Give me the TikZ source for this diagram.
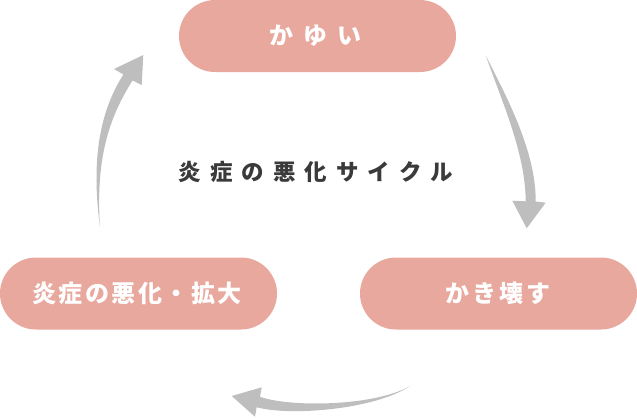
\documentclass[tikz,border=0pt]{standalone}
\usepackage{fontspec}
\setmainfont{Noto Sans CJK JP}
\definecolor{pill}{HTML}{E8A89E}
\definecolor{arrowgray}{HTML}{BEBEBE}
\definecolor{titlegray}{HTML}{3A3A3A}
\tikzset{
  pillbox/.style={fill=pill, rounded corners=36pt, minimum width=277pt, minimum height=72pt, inner sep=0pt},
  pilltext/.style={inner sep=0pt, text=white, font=\bfseries\fontsize{24pt}{24pt}\selectfont},
  titletext/.style={text=titlegray, inner sep=0pt, font=\bfseries\fontsize{22.5pt}{22.5pt}\selectfont},
  bentarrow/.style={fill=arrowgray, draw=none}
}
\begin{document}
\begin{tikzpicture}[x=1pt,y=-1pt]
\useasboundingbox (0,0) rectangle (637,418);
% pills
\node[pillbox] (itch) at (317.5,36) {};
\node[pillbox] (worse) at (138.5,293.5) {};
\node[pillbox] (scratch) at (498.5,293.5) {};
% texts
\node[pilltext] (itchtext) at (315.5,36) {か\kern10pt ゆ\kern10pt い};
\node[pilltext] (worsetext) at (137,293.5) {炎\kern2.5pt 症\kern2.5pt の\kern2.5pt 悪\kern2.5pt 化\kern2.5pt ・\kern2.5pt 拡\kern2.5pt 大};
\node[pilltext] (scratchtext) at (497.5,293.5) {か\kern3pt き\kern3pt 壊\kern3pt す};
\node[titletext] (title) at (316,172) {炎\kern9pt 症\kern9pt の\kern9pt 悪\kern9pt 化\kern9pt サ\kern9pt イ\kern9pt ク\kern9pt ル};
% right arrow (itch -> scratch)
\fill[bentarrow] (486,56) .. controls (505,94) and (536,150) .. (535.7,201.5)
  -- (545.7,202.7) -- (526.7,228.3) -- (512.3,200.7) -- (525.7,201.3)
  .. controls (525.5,152) and (500,97) .. (486,56) -- cycle;
% bottom arrow (scratch -> worse)
\fill[bentarrow] (410,386) .. controls (374.4,409.9) and (288.6,416.3) .. (256.6,407.2)
  -- (255,416.7) -- (231.7,396) -- (261.7,387.3) -- (260,396.8)
  .. controls (291.4,407.7) and (375.6,406.1) .. (410,386) -- cycle;
% left arrow (worse -> itch)
\fill[bentarrow] (100,227) .. controls (95.5,160) and (108.5,118) .. (132.6,80.5)
  -- (141.7,85) -- (143.3,55) -- (114,69) -- (123.4,74.5)
  .. controls (99.5,112) and (91,160) .. (100,227) -- cycle;
\end{tikzpicture}
\end{document}
